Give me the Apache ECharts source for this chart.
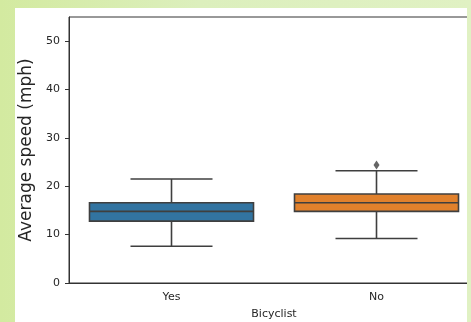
<!DOCTYPE html>
<html><head><meta charset="utf-8">
<script src="https://cdn.jsdelivr.net/npm/echarts@6/dist/echarts.min.js"></script>
<style>
html,body{margin:0;padding:0;width:471px;height:322px;overflow:hidden;background:linear-gradient(90deg,#d3eaa0 0px,#dcefbd 200px,#e0f1c3 471px);}
#wrap{position:absolute;left:15px;top:8px;width:452px;height:314px;background:#fff;overflow:hidden;}
#c{width:452px;height:314px;}
</style></head>
<body><div id="wrap"><div id="c"></div></div>
<script>
const categories = ['Yes', 'No'];
// [min, Q1, median, Q3, max]
const boxStats = [
  [7.6, 12.8, 14.8, 16.6, 21.5],
  [9.2, 14.8, 16.6, 18.4, 23.2]
];
const outliers = [[1, 24.4]];
const boxColors = ['#3274a1', '#e1812c'];
const yTicks = [0, 10, 20, 30, 40, 50];

const chart = echarts.init(document.getElementById('c'));
const lineColor = '#3f3f3f';
const textColor = '#262626';
function renderBox(params, api) {
  const ci = api.value(0);
  const band = api.size([1, 0])[0];
  const bw = band * 0.8, cw = bw / 2;
  const pMin = api.coord([ci, api.value(1)]);
  const pQ1 = api.coord([ci, api.value(2)]);
  const pMed = api.coord([ci, api.value(3)]);
  const pQ3 = api.coord([ci, api.value(4)]);
  const pMax = api.coord([ci, api.value(5)]);
  const x = pMed[0];
  const ls = {stroke: lineColor, lineWidth: 1.6};
  return {type: 'group', children: [
    {type: 'line', shape: {x1: x, y1: pQ3[1], x2: x, y2: pMax[1]}, style: ls},
    {type: 'line', shape: {x1: x, y1: pQ1[1], x2: x, y2: pMin[1]}, style: ls},
    {type: 'line', shape: {x1: x - cw / 2, y1: pMax[1], x2: x + cw / 2, y2: pMax[1]}, style: ls},
    {type: 'line', shape: {x1: x - cw / 2, y1: pMin[1], x2: x + cw / 2, y2: pMin[1]}, style: ls},
    {type: 'rect', shape: {x: x - bw / 2, y: pQ3[1], width: bw, height: pQ1[1] - pQ3[1]},
      style: {fill: boxColors[ci], stroke: lineColor, lineWidth: 1.6}},
    {type: 'line', shape: {x1: x - bw / 2, y1: pMed[1], x2: x + bw / 2, y2: pMed[1]}, style: ls}
  ]};
}
chart.setOption({
  animation: false,
  textStyle: {fontFamily: 'DejaVu Sans'},
  grid: {left: 54, top: 9, width: 410, height: 266, containLabel: false, outerBoundsMode: 'none',
    show: true, borderColor: '#333', borderWidth: 1, backgroundColor: '#fff'},
  xAxis: {
    type: 'category', data: categories,
    name: 'Bicyclist', nameLocation: 'middle', nameGap: 26,
    nameTextStyle: {fontSize: 11, color: textColor, fontFamily: 'DejaVu Sans'},
    axisLine: {lineStyle: {color: '#333', width: 1}},
    axisTick: {alignWithLabel: true, length: 4, lineStyle: {color: '#333'}},
    axisLabel: {fontSize: 11, color: textColor, margin: 9, fontFamily: 'DejaVu Sans'},
    splitLine: {show: false}
  },
  yAxis: {
    type: 'value', min: 0, max: 55,
    name: 'Average speed (mph)', nameLocation: 'middle', nameGap: 28,
    nameTextStyle: {fontSize: 17, color: textColor, fontFamily: 'DejaVu Sans'},
    axisLine: {show: true, lineStyle: {color: '#333', width: 1}},
    axisTick: {show: true, length: 4, customValues: yTicks, lineStyle: {color: '#333'}},
    axisLabel: {fontSize: 11, color: textColor, margin: 9, customValues: yTicks, fontFamily: 'DejaVu Sans'},
    splitLine: {show: false}
  },
  series: [
    {type: 'custom', renderItem: renderBox, encode: {x: 0, y: [1, 2, 3, 4, 5]},
     data: boxStats.map((s, i) => [i].concat(s))},
    {type: 'scatter', data: outliers, symbol: 'diamond', symbolSize: [6, 9],
     itemStyle: {color: lineColor}, z: 5}
  ]
});
</script></body></html>
